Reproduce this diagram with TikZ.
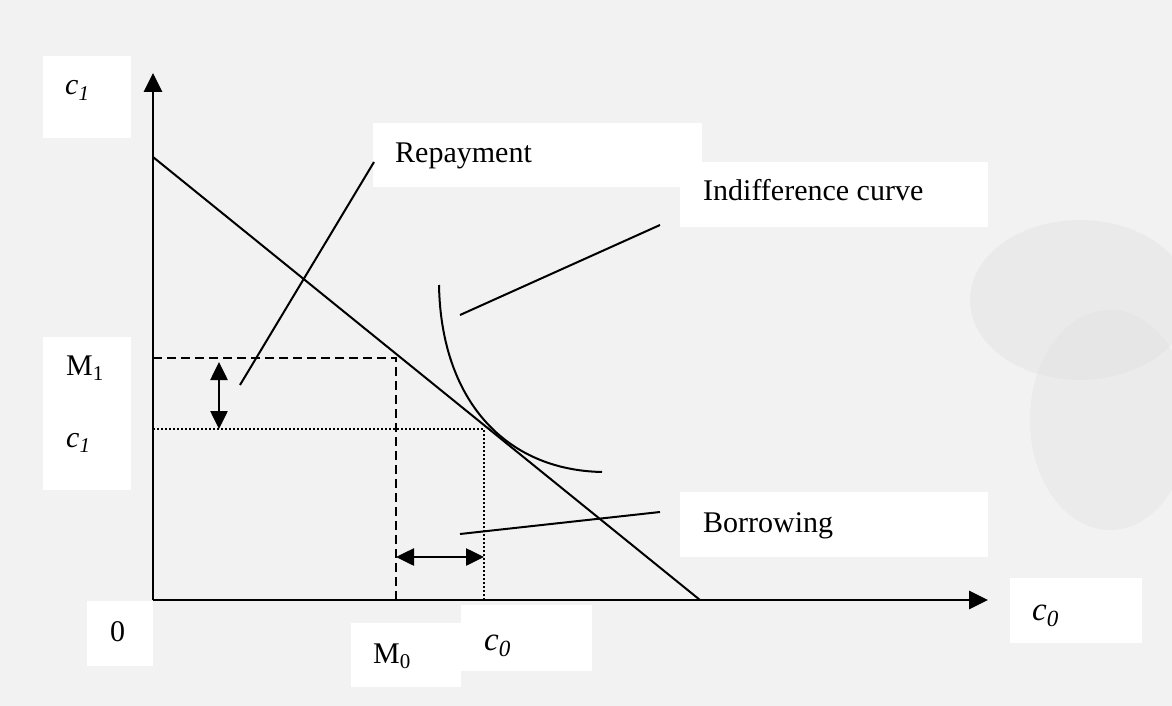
\documentclass[tikz,border=0pt]{standalone}
\usepackage{fontspec}
\setmainfont{Liberation Serif}
\usetikzlibrary{arrows.meta}
\definecolor{bgcol}{RGB}{242,242,242}
\definecolor{blobcol}{RGB}{226,226,226}
\begin{document}
\begin{tikzpicture}[x=1pt,y=-1pt,
  labelbox/.style={fill=white,draw=none},
  lbl/.style={anchor=base west,inner sep=0pt,font=\fontsize{30}{32}\selectfont},
  biglbl/.style={anchor=base west,inner sep=0pt,font=\fontsize{33}{35}\selectfont},
  axisline/.style={line width=2.8pt,-{Triangle[length=19pt,width=18pt]}},
  dblarrow/.style={line width=2.6pt,{Triangle[length=18pt,width=17pt]}-{Triangle[length=18pt,width=17pt]}},
  plainline/.style={line width=2pt},
  dashline/.style={line width=2pt,dash pattern=on 9pt off 5pt},
  dotline/.style={line width=1.6pt,dash pattern=on 1.6pt off 2.4pt},
]
\fill[bgcol] (0,0) rectangle (1172,706);
\useasboundingbox (0,0) rectangle (1172,706);
% faint background shape on the right
\fill[blobcol,opacity=0.45] (1080,300) ellipse [x radius=110,y radius=80];
\fill[blobcol,opacity=0.4] (1110,420) ellipse [x radius=80,y radius=110];

% white label boxes
\fill[labelbox] (43,56) rectangle (131,138);
\fill[labelbox] (43,337) rectangle (131,490);
\fill[labelbox] (87,601) rectangle (153,666);
\fill[labelbox] (351,623) rectangle (461,687);
\fill[labelbox] (461,605) rectangle (592,671);
\fill[labelbox] (1010,578) rectangle (1142,643);
\fill[labelbox] (373,123) rectangle (702,187);
\fill[labelbox] (680,162) rectangle (988,227);
\fill[labelbox] (680,492) rectangle (988,557);

% coordinates
\coordinate (O) at (153,600);
\coordinate (ytop) at (153,73);
\coordinate (xend) at (988,600);
\coordinate (bl1) at (153,157);
\coordinate (bl2) at (700,600);
\coordinate (m1y) at (153,358);
\coordinate (m1c) at (396,358);
\coordinate (m0x) at (396,600);
\coordinate (c1y) at (153,429);
\coordinate (E) at (484,429);
\coordinate (c0x) at (484,600);
\coordinate (ic1) at (439,285);
\coordinate (ic2) at (602,472);
\coordinate (va1) at (219,362);
\coordinate (va2) at (219,429);
\coordinate (ha1) at (396,557);
\coordinate (ha2) at (484,557);
\coordinate (rp1) at (240,385);
\coordinate (rp2) at (374,162);
\coordinate (ip1) at (460,315);
\coordinate (ip2) at (660,225);
\coordinate (bp1) at (460,534);
\coordinate (bp2) at (660,512);

% guide lines
\draw[dashline] (m1y) -- (m1c) -- (m0x);
\draw[dotline] (c1y) -- (E) -- (c0x);

% budget line
\draw[plainline] (bl1) -- (bl2);
% indifference curve
\draw[plainline] (ic1) .. controls (441,400) and (505,470) .. (ic2);

% axes
\draw[axisline] (O) -- (ytop);
\draw[axisline] (O) -- (xend);

% double arrows
\draw[dblarrow] (va1) -- (va2);
\draw[dblarrow] (ha1) -- (ha2);

% pointer lines
\draw[plainline] (rp1) -- (rp2);
\draw[plainline] (ip1) -- (ip2);
\draw[plainline] (bp1) -- (bp2);

% labels
\node[lbl] (lc1top) at (65,95) {\textit{c}\textsubscript{\textit{1}}};
\node[lbl] (lM1) at (66,375) {M\textsubscript{1}};
\node[lbl] (lc1) at (66,447) {\textit{c}\textsubscript{\textit{1}}};
\node[lbl] (lzero) at (110,641) {0};
\node[lbl] (lM0) at (373,663) {M\textsubscript{0}};
\node[biglbl] (lc0) at (484,650) {\textit{c}\textsubscript{\textit{0}}};
\node[biglbl] (lc0r) at (1032,620) {\textit{c}\textsubscript{\textit{0}}};
\node[lbl] (lrep) at (395,162) {Repayment};
\node[lbl] (lind) at (703,200) {Indifference curve};
\node[lbl] (lbor) at (703,532) {Borrowing};
\end{tikzpicture}
\end{document}
